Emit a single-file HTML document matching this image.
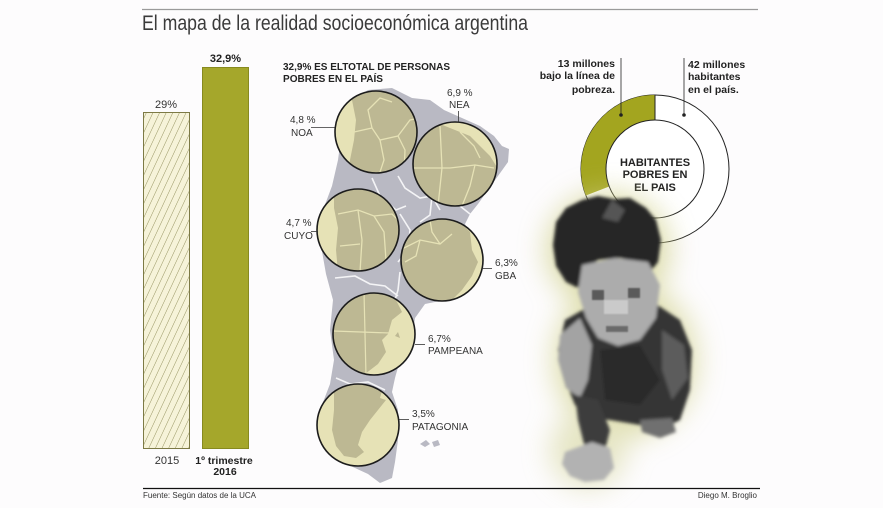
<!DOCTYPE html>
<html><head><meta charset="utf-8">
<style>
html,body{margin:0;padding:0;background:#fdfcfd;}
svg{display:block;}
text{font-family:"Liberation Sans",Arial,sans-serif;}
</style></head>
<body>
<svg width="883" height="508" viewBox="0 0 883 508" xmlns="http://www.w3.org/2000/svg">
<defs>
<pattern id="hatch" patternUnits="userSpaceOnUse" width="6" height="6" patternTransform="rotate(25)">
<rect width="6" height="6" fill="#f6f3d9"/>
<line x1="0" y1="0" x2="0" y2="6" stroke="#8d8a55" stroke-width="0.9"/>
</pattern>
<filter id="glow" x="-50%" y="-50%" width="200%" height="200%"><feGaussianBlur stdDeviation="14"/></filter>
<filter id="soft" x="-20%" y="-20%" width="140%" height="140%"><feGaussianBlur stdDeviation="1.6"/></filter>
<filter id="soft1"><feGaussianBlur stdDeviation="0.8"/></filter>
<clipPath id="cNOA"><circle cx="376" cy="132" r="41"/></clipPath>
<clipPath id="cNEA"><circle cx="455" cy="164" r="42"/></clipPath>
<clipPath id="cCUYO"><circle cx="358" cy="230" r="41"/></clipPath>
<clipPath id="cGBA"><circle cx="442" cy="260" r="41"/></clipPath>
<clipPath id="cPAM"><circle cx="374" cy="334" r="41"/></clipPath>
<clipPath id="cPAT"><circle cx="358" cy="425" r="41"/></clipPath>
</defs>

<line x1="142" y1="9.5" x2="758" y2="9.5" stroke="#9a9a9a" stroke-width="1.2"/>
<text x="142" y="30" font-size="21" fill="#3a3a3a" textLength="386" lengthAdjust="spacingAndGlyphs">El mapa de la realidad socioeconómica argentina</text>

<rect x="143.5" y="112.5" width="46" height="336" fill="url(#hatch)" stroke="#7d7a45" stroke-width="1"/>
<rect x="202.5" y="67.5" width="46" height="381" fill="#a5a72b" stroke="#878a1f" stroke-width="1"/>
<text x="166" y="108" font-size="11" fill="#333" text-anchor="middle">29%</text>
<text x="225.5" y="62" font-size="11" fill="#222" font-weight="bold" text-anchor="middle">32,9%</text>
<text x="167" y="464" font-size="11" fill="#333" text-anchor="middle">2015</text>
<text x="224" y="464" font-size="10.5" fill="#222" font-weight="bold" text-anchor="middle">1º trimestre</text>
<text x="225" y="475" font-size="10.5" fill="#222" font-weight="bold" text-anchor="middle">2016</text>

<text x="283" y="70" font-size="10" font-weight="bold" fill="#222" textLength="167" lengthAdjust="spacingAndGlyphs">32,9% ES ELTOTAL DE PERSONAS</text>
<text x="283" y="82" font-size="10" font-weight="bold" fill="#222" textLength="100" lengthAdjust="spacingAndGlyphs">POBRES EN EL PAÍS</text>

<path d="M352,100 L368,90 L392,88 L412,98 L430,100 L444,110 L462,118 L480,126 L494,136 L502,146 L509,149 L508,162 L498,176 L488,190 L478,204 L470,214 L465,224 L470,236 L480,250 L482,270 L470,290 L445,300 L425,304 L415,318 L412,338 L400,360 L395,378 L392,392 L398,410 L398,440 L395,462 L392,478 L380,483 L368,474 L355,468 L342,462 L325,440 L320,410 L330,384 L334,360 L330,330 L333,300 L326,274 L320,240 L323,210 L332,186 L338,160 L342,130 Z" fill="#b9b9c3"/>
<g stroke="#f4f4f6" stroke-width="1.6" fill="none">
<path d="M398,176 L405,188 L420,198 L432,196 L440,210"/>
<path d="M372,178 L380,196 L396,210 L406,206"/>
<path d="M400,214 L410,230 L408,250 L398,262"/>
<path d="M432,196 L430,215 L420,222"/>
<path d="M335,278 L355,276 L370,284 L385,286 L398,296"/>
<path d="M395,300 L398,290 L400,272"/>
<path d="M336,378 L350,384 L368,382 L385,390"/>
<path d="M460,206 L470,214"/>
</g>
<path d="M420,444 L426,440 L430,444 L425,447 Z M432,442 L438,440 L440,445 L434,447 Z" fill="#b9b9c3"/>

<g clip-path="url(#cNOA)">
<rect x="330" y="88" width="92" height="90" fill="#e6e2b6"/>
<path d="M356,88 L420,88 L420,178 L348,178 L350,160 L354,140 L356,120 L352,100 Z" fill="#bdb893"/>
<g stroke="#e6e2b6" stroke-width="1.3" fill="none">
<path d="M354,132 L372,128 L380,140 L398,136 L405,150 L404,175"/>
<path d="M372,128 L368,110 L380,98 L392,102"/>
<path d="M380,140 L384,160 L378,178"/>
<path d="M398,136 L410,120 L420,118"/>
</g>
</g>
<circle cx="376" cy="132" r="41" fill="none" stroke="#1c1c1c" stroke-width="1.6"/>

<g clip-path="url(#cNEA)">
<rect x="410" y="120" width="92" height="90" fill="#e6e2b6"/>
<path d="M412,130 L440,124 L470,136 L490,156 L500,172 L492,190 L478,206 L412,206 Z" fill="#bdb893"/>
<g stroke="#e6e2b6" stroke-width="1.3" fill="none">
<path d="M412,168 L450,168 L475,165 L494,168"/>
<path d="M440,126 L442,168 L438,206"/>
<path d="M475,165 L470,186 L462,206"/>
<path d="M460,132 L474,146 L480,158"/>
</g>
</g>
<circle cx="455" cy="164" r="42" fill="none" stroke="#1c1c1c" stroke-width="1.6"/>

<g clip-path="url(#cCUYO)">
<rect x="315" y="187" width="88" height="88" fill="#e6e2b6"/>
<path d="M334,189 L402,189 L402,272 L338,272 L336,250 L338,228 L334,208 Z" fill="#bdb893"/>
<g stroke="#e6e2b6" stroke-width="1.3" fill="none">
<path d="M338,214 L358,210 L374,216 L392,214 L400,222"/>
<path d="M358,210 L362,240 L360,272"/>
<path d="M374,216 L384,232 L386,260 L382,272"/>
<path d="M340,246 L360,244"/>
</g>
</g>
<circle cx="358" cy="230" r="41" fill="none" stroke="#1c1c1c" stroke-width="1.6"/>

<g clip-path="url(#cGBA)">
<rect x="398" y="216" width="88" height="88" fill="#e6e2b6"/>
<path d="M400,220 L456,218 L470,232 L472,250 L478,262 L472,276 L462,290 L450,302 L400,302 Z" fill="#bdb893"/>
<g stroke="#e6e2b6" stroke-width="1.3" fill="none">
<path d="M400,250 L420,240 L440,244 L452,234"/>
<path d="M430,220 L432,232 L440,244"/>
<path d="M420,240 L416,256 L405,262"/>
</g>
</g>
<circle cx="442" cy="260" r="41" fill="none" stroke="#1c1c1c" stroke-width="1.6"/>

<g clip-path="url(#cPAM)">
<rect x="330" y="290" width="90" height="90" fill="#e6e2b6"/>
<path d="M332,292 L392,292 L402,312 L392,320 L388,334 L382,340 L386,352 L378,364 L365,374 L332,376 Z" fill="#bdb893"/>
<g stroke="#e6e2b6" stroke-width="1.2" fill="none">
<path d="M332,331 L390,333"/>
<path d="M364,292 L366,376"/>
<path d="M335,305 L350,298"/>
</g>
<path d="M395,336 L398,332 L400,338 Z" fill="#bdb893"/>
</g>
<circle cx="374" cy="334" r="41" fill="none" stroke="#1c1c1c" stroke-width="1.6"/>

<g clip-path="url(#cPAT)">
<rect x="314" y="381" width="90" height="90" fill="#e6e2b6"/>
<path d="M334,384 L384,384 L380,398 L386,400 L378,410 L370,420 L362,432 L358,445 L364,452 L356,458 L344,456 L336,446 L332,430 L334,410 Z" fill="#bdb893"/>
</g>
<circle cx="358" cy="425" r="41" fill="none" stroke="#1c1c1c" stroke-width="1.6"/>

<g font-size="10" fill="#333">
<text x="290" y="123">4,8 %</text><text x="291" y="136">NOA</text>
<line x1="311" y1="127.5" x2="335" y2="127.5" stroke="#333" stroke-width="0.8"/>
<text x="447" y="96">6,9 %</text><text x="449" y="108">NEA</text>
<line x1="458.5" y1="111" x2="458.5" y2="122" stroke="#333" stroke-width="0.8"/>
<text x="286" y="226">4,7 %</text><text x="284" y="239">CUYO</text>
<line x1="311" y1="231.5" x2="318" y2="231.5" stroke="#333" stroke-width="0.8"/>
<text x="495" y="266">6,3%</text><text x="495" y="279">GBA</text>
<line x1="483" y1="268.5" x2="492" y2="268.5" stroke="#333" stroke-width="0.8"/>
<text x="428" y="342">6,7%</text><text x="428" y="354">PAMPEANA</text>
<line x1="415" y1="344.5" x2="425" y2="344.5" stroke="#333" stroke-width="0.8"/>
<text x="412" y="417">3,5%</text><text x="412" y="430">PATAGONIA</text>
<line x1="399" y1="419.5" x2="409" y2="419.5" stroke="#333" stroke-width="0.8"/>
</g>

<circle cx="655" cy="169" r="74" fill="#ffffff" stroke="#222" stroke-width="1"/>
<path d="M655,95 A74,74 0 0 0 585.9,195.5 L609.2,186.5 A49,49 0 0 1 655,120 Z" fill="#a3a51f"/>
<circle cx="655" cy="169" r="49" fill="#ffffff" stroke="#222" stroke-width="1"/>
<line x1="655" y1="95" x2="655" y2="120" stroke="#222" stroke-width="1"/>
<g font-size="11" font-weight="bold" fill="#222" text-anchor="middle">
<text x="655" y="166">HABITANTES</text>
<text x="655" y="178">POBRES EN</text>
<text x="655" y="191">EL PAIS</text>
</g>
<g font-size="10.5" font-weight="bold" fill="#222">
<text x="615" y="67" text-anchor="end">13 millones</text>
<text x="615" y="79" text-anchor="end">bajo la línea de</text>
<text x="615" y="93" text-anchor="end">pobreza.</text>
<text x="688" y="68">42 millones</text>
<text x="688" y="80">habitantes</text>
<text x="688" y="93">en el país.</text>
</g>
<line x1="621" y1="58" x2="621" y2="115" stroke="#222" stroke-width="0.8"/>
<circle cx="621" cy="115" r="1.8" fill="#222"/>
<line x1="684" y1="58" x2="684" y2="115" stroke="#222" stroke-width="0.8"/>
<circle cx="684" cy="115" r="1.8" fill="#222"/>

<!-- child photo approximation -->
<g filter="url(#glow)" opacity="0.7">
<ellipse cx="608" cy="250" rx="62" ry="58" fill="#cfcf86"/>
<ellipse cx="625" cy="360" rx="72" ry="78" fill="#d3d38f"/>
<ellipse cx="588" cy="450" rx="38" ry="38" fill="#dcdcac"/>
</g>
<g filter="url(#soft)">
<path d="M565,320 L600,300 L650,300 L680,320 L692,350 L690,390 L680,420 L660,430 L640,425 L610,420 L590,418 L575,405 L565,380 L558,350 Z" fill="#353535"/>
<path d="M560,335 L580,318 L592,345 L588,380 L580,398 L566,388 L558,360 Z" fill="#a3a3a3"/>
<path d="M600,350 L640,345 L660,380 L640,405 L605,400 Z" fill="#2a2a2a"/>
<path d="M662,330 L684,345 L688,378 L672,400 L662,370 Z" fill="#5c5c5c"/>
<path d="M575,395 L598,400 L610,430 L605,450 L585,448 L578,420 Z" fill="#3e3e3e"/>
<path d="M640,420 L672,418 L676,432 L660,438 L642,432 Z" fill="#707070"/>
<path d="M565,452 L592,442 L610,448 L614,468 L604,480 L585,482 L570,476 L562,464 Z" fill="#b2b2b2"/>
<path d="M553,245 L556,222 L566,208 L582,200 L598,196 L614,199 L630,198 L646,208 L656,220 L661,240 L658,262 L650,272 L636,262 L620,258 L598,260 L586,270 L578,288 L566,282 L556,266 Z" fill="#262626"/>
<path d="M582,265 L615,258 L648,262 L660,285 L656,318 L640,340 L618,346 L598,338 L586,318 L578,292 Z" fill="#acacac"/>
<path d="M612,200 L625,210 L618,222 L602,218 Z" fill="#555"/>
</g>
<g filter="url(#soft1)">
<rect x="592" y="290" width="12" height="10" fill="#5a5a5a"/>
<rect x="628" y="288" width="12" height="10" fill="#5a5a5a"/>
<rect x="604" y="300" width="24" height="14" fill="#cacaca"/>
<rect x="606" y="326" width="22" height="6" fill="#6a6a6a"/>
</g>

<line x1="143" y1="488.5" x2="760" y2="488.5" stroke="#111" stroke-width="1.2"/>
<text x="143" y="498" font-size="8" fill="#333">Fuente: Según datos de la UCA</text>
<text x="757" y="498" font-size="8" fill="#333" text-anchor="end">Diego M. Broglio</text>
</svg>
</body></html>
